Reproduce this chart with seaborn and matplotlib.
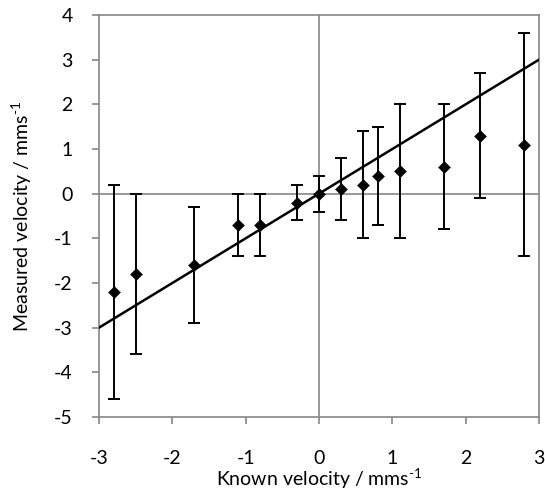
import matplotlib
matplotlib.use("Agg")
import matplotlib.pyplot as plt
import seaborn as sns
import pandas as pd

# Known vs. measured velocity (mm/s) with error ranges
known = [-2.8, -2.5, -1.7, -1.1, -0.8, -0.3, 0.0, 0.3, 0.6, 0.8, 1.1, 1.7, 2.2, 2.8]
measured = [-2.2, -1.8, -1.6, -0.7, -0.7, -0.2, 0.0, 0.1, 0.2, 0.4, 0.5, 0.6, 1.3, 1.1]
err_high = [0.2, 0.0, -0.3, 0.0, 0.0, 0.2, 0.4, 0.8, 1.4, 1.5, 2.0, 2.0, 2.7, 3.6]
err_low = [-4.6, -3.6, -2.9, -1.4, -1.4, -0.6, -0.4, -0.6, -1.0, -0.7, -1.0, -0.8, -0.1, -1.4]

# Ideal response line y = x
ideal_x = [-3, 3]
ideal_y = [-3, 3]

x_ticks = [-3, -2, -1, 0, 1, 2, 3]
y_ticks = [-5, -4, -3, -2, -1, 0, 1, 2, 3, 4]

df = pd.DataFrame({"known": known, "measured": measured,
                   "hi": err_high, "lo": err_low})
ideal = pd.DataFrame({"x": ideal_x, "y": ideal_y})

sns.set_theme(style="white")
plt.rcParams["font.family"] = ["Lato", "DejaVu Sans"]
plt.rcParams["mathtext.fontset"] = "custom"
plt.rcParams["mathtext.rm"] = "Lato"
plt.rcParams["mathtext.it"] = "Lato"
plt.rcParams["mathtext.default"] = "regular"

grey = "#868686"
fig = plt.figure(figsize=(5.45, 4.94), dpi=100)
ax = fig.add_axes([99 / 545, 1 - 417 / 494, 440 / 545, 402 / 494])

# zero axes through the origin
ax.axhline(0, color=grey, lw=1.2, zorder=1)
ax.axvline(0, color=grey, lw=1.2, zorder=1)

sns.lineplot(data=ideal, x="x", y="y", ax=ax, color="black", lw=1.8, zorder=3)

ax.errorbar(df["known"], df["measured"],
            yerr=[df["measured"] - df["lo"], df["hi"] - df["measured"]],
            fmt="none", ecolor="black", elinewidth=1.4, capsize=4, capthick=1.4,
            zorder=4)

sns.scatterplot(data=df, x="known", y="measured", ax=ax, marker="D", s=38,
                color="black", edgecolor="black", linewidth=0.3, zorder=5)

ax.set_xlim(-3, 3)
ax.set_ylim(-5, 4)
ax.set_xticks(x_ticks)
ax.set_yticks(y_ticks)
ax.set_xticklabels([str(v) for v in x_ticks])
ax.set_yticklabels([str(v) for v in y_ticks])

for s in ax.spines.values():
    s.set_color(grey)
    s.set_linewidth(1.2)
ax.tick_params(axis="both", which="major", direction="out", length=5,
               width=1.2, color=grey, labelsize=14, labelcolor="black",
               left=True, bottom=True)
ax.tick_params(axis="x", pad=19)
ax.tick_params(axis="y", pad=14)

ax.set_xlabel(r"Known velocity / mms$^{\text{-1}}$", fontsize=14, color="black")
ax.set_ylabel(r"Measured velocity / mms$^{\text{-1}}$", fontsize=14, color="black")
ax.xaxis.label.set_va("center")
ax.yaxis.label.set_va("center")
ax.xaxis.set_label_coords(0.5, -(479 - 417) / 402)
ax.yaxis.set_label_coords(-(99 - 22) / 440, 0.5)

fig.savefig("out.png", dpi=100)
